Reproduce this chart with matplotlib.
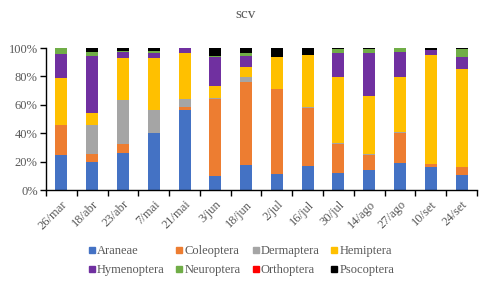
import numpy as np
import matplotlib
matplotlib.use('Agg')
import matplotlib.pyplot as plt
from matplotlib.lines import Line2D

plt.rcParams['font.family'] = ['Liberation Serif', 'DejaVu Serif']

datas = ['26/mar', '18/abr', '23/abr', '7/mai', '21/mai', '3/jun', '18/jun',
         '2/jul', '16/jul', '30/jul', '14/ago', '27/ago', '10/set', '24/set']

araneae     = [25.0, 20.0, 26.1, 40.1, 56.3,  9.9, 17.6, 11.3, 16.9, 12.0, 14.1, 19.0, 16.2, 10.6]
coleoptera  = [21.0,  5.6,  6.5,  0.0,  2.2, 54.2, 58.5, 59.8, 40.8, 20.4, 10.5, 21.1,  2.1,  5.6]
dermaptera  = [ 0.0, 20.2, 30.8, 16.2,  5.6,  0.7,  3.5,  0.0,  0.7,  0.7,  0.7,  0.7,  0.0,  0.0]
hemiptera   = [33.0,  8.4, 29.6, 36.7, 32.4,  8.4,  7.0, 22.6, 36.6, 46.5, 40.8, 38.8, 76.8, 69.0]
hymenoptera = [17.0, 40.2,  4.2,  3.5,  3.5, 20.5,  7.8,  0.0,  0.0, 16.9, 30.3, 17.6,  3.5,  8.5]
neuroptera  = [ 4.0,  2.8,  0.5,  1.4,  0.0,  0.7,  2.1,  0.0,  0.0,  2.8,  2.8,  2.8,  0.0,  5.6]
orthoptera  = [ 0.0,  0.0,  0.0,  0.0,  0.0,  0.0,  0.0,  0.0,  0.0,  0.0,  0.0,  0.0,  0.0,  0.0]
psocoptera  = [ 0.0,  2.8,  2.3,  2.1,  0.0,  5.6,  3.5,  6.3,  4.9,  0.7,  0.7,  0.0,  1.4,  0.7]

ordens = ['Araneae', 'Coleoptera', 'Dermaptera', 'Hemiptera',
          'Hymenoptera', 'Neuroptera', 'Orthoptera', 'Psocoptera']
series = [araneae, coleoptera, dermaptera, hemiptera,
          hymenoptera, neuroptera, orthoptera, psocoptera]
cores = ['#4472C4', '#ED7D31', '#A5A5A5', '#FFC000',
         '#7030A0', '#70AD47', '#FF0000', '#000000']

fig = plt.figure(figsize=(4.92, 2.88), dpi=100)
ax = fig.add_axes([0.0935, 0.34, 0.876, 0.493])

x = np.arange(len(datas))
base = np.zeros(len(datas))
tot = np.array([sum(col) for col in zip(*series)])
for s, c in zip(series, cores):
    v = np.array(s) / tot * 100
    ax.bar(x, v, 0.39, bottom=base, color=c, linewidth=0)
    base += v

cinza = '#595959'
ax.set_xlim(-0.5, len(datas) - 0.5)
ax.set_ylim(0, 100)
ax.set_yticks(np.arange(0, 101, 20))
ax.set_yticklabels([f'{v}%' for v in range(0, 101, 20)], color=cinza, fontsize=9)
ax.set_xticks(x)
ax.set_xticklabels(datas, rotation=45, ha='right', rotation_mode='anchor',
                   color=cinza, fontsize=9)
ax.set_xticks(np.arange(-0.5, len(datas), 1), minor=True)
ax.tick_params(axis='x', which='major', length=0, pad=6)
ax.tick_params(axis='x', which='minor', length=4, width=1, color='black')
ax.tick_params(axis='y', length=4, width=1, color='black', pad=2)
for sp in ['top', 'right']:
    ax.spines[sp].set_visible(False)
ax.spines['left'].set_linewidth(1)
ax.spines['bottom'].set_linewidth(1)

fig.text(0.5, 0.95, 'scv', ha='center', va='center', color=cinza, fontsize=11)

# legenda preenchida por linhas (4 por linha)
ordem = [0, 4, 1, 5, 2, 6, 3, 7]
handles = [Line2D([], [], marker='s', linestyle='', color=cores[i], markersize=5) for i in ordem]
labels = [ordens[i] for i in ordem]
fig.legend(handles, labels, loc='center', bbox_to_anchor=(0.49, 0.095), ncol=4,
           frameon=False, fontsize=9, labelcolor=cinza, handlelength=0.6,
           handletextpad=0.1, columnspacing=0.9, labelspacing=0.55)

plt.savefig('out.png', dpi=100)
